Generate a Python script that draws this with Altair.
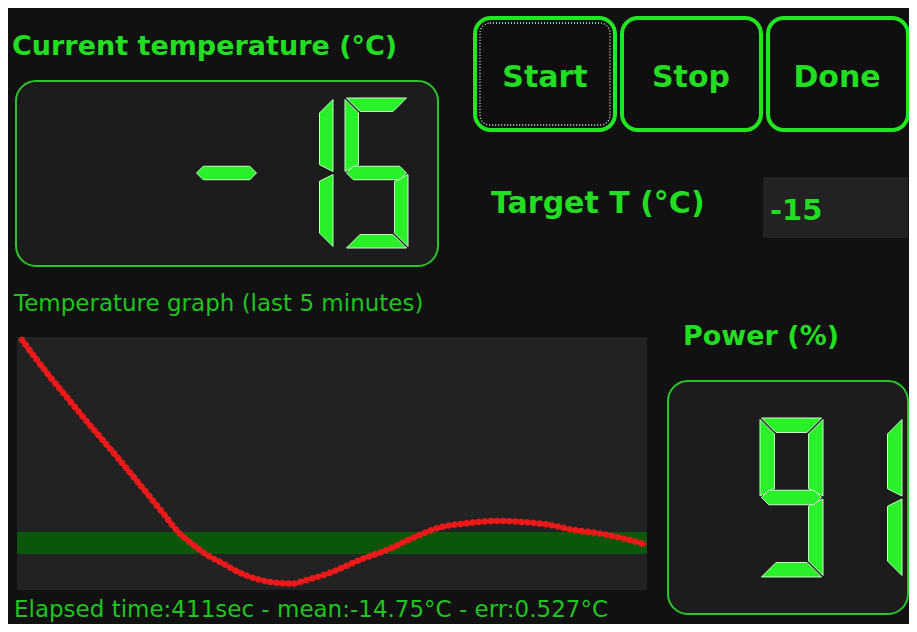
import altair as alt
import pandas as pd

# ---------------- values ----------------
current_temp = "-15"
power_pct = "91"
target_c = -15
band_half = 0.5
elapsed_s = 411
mean_c = -14.75
err_c = 0.527
window_start, window_end = 111, 411          # last 5 minutes (s)
temp_min, temp_max = -17.14, -5.64           # graph vertical extent (°C)

time_s = [113.4, 120.0, 126.7, 134.5, 142.4, 150.5, 158.6, 166.5, 174.3, 181.0,
          187.2, 194.5, 201.5, 208.6, 217.2, 226.7, 235.3, 242.0, 249.1, 260.0,
          267.0, 274.3, 287.2, 299.6, 311.5, 326.7, 339.6, 351.9, 364.8, 375.8,
          387.2, 396.7, 407.7, 410.5]
temp_c = [-5.77, -6.62, -7.45, -8.35, -9.27, -10.18, -11.09, -12.00, -12.91, -13.70,
          -14.45, -15.05, -15.55, -15.91, -16.36, -16.68, -16.82, -16.85, -16.68, -16.36,
          -16.08, -15.77, -15.32, -14.77, -14.32, -14.09, -14.00, -14.05, -14.18, -14.41,
          -14.55, -14.73, -15.00, -15.09]

bold_labels = ["Current temperature (°C)", "Target T (°C)", str(target_c), "Power (%)"]
button_labels = ["Start", "Stop", "Done"]
info_labels = ["Temperature graph (last 5 minutes)",
               f"Elapsed time:{elapsed_s}sec - mean:{mean_c}°C - err:{err_c}°C"]

# ---------------- layout (page pixels) ----------------
O = 8                     # page margin
W, H = 901, 616
GREEN = "#22e622"
GREEN_TXT = "#22dd22"
GREEN_REG = "#1fc41f"
SEG_FILL = "#2af02a"
SEG_EDGE = "#c4ffc4"


def px(v):
    return min(v - O, W - 1)


def py(v):
    return min(v - O, H - 1)


def rect_df(rects):
    return pd.DataFrame([{"x0": px(a), "y0": py(b), "x1": px(c), "y1": py(d)} for a, b, c, d in rects])


def rect_layer(rects, **kw):
    return alt.Chart(rect_df(rects)).mark_rect(**kw).encode(
        x=alt.X("x0:Q", scale=None), x2="x1", y=alt.Y("y0:Q", scale=None), y2="y1")


def text_layer(labels, xs, ys, sizes, **kw):
    df = pd.DataFrame({"label": labels, "x": [px(v) for v in xs], "y": [py(v) for v in ys], "fs": sizes})
    return alt.Chart(df).mark_text(baseline="alphabetic", font="DejaVu Sans", **kw).encode(
        x=alt.X("x:Q", scale=None), y=alt.Y("y:Q", scale=None),
        text="label:N", size=alt.Size("fs:Q", scale=None))


# ---------------- seven segment digits ----------------
SEGMENTS = {"0": "abcdef", "1": "bc", "2": "abdeg", "3": "abcdg", "4": "bcfg",
            "5": "acdfg", "6": "acdefg", "7": "abc", "8": "abcdefg", "9": "abcdfg", "-": "g"}


def seg_polys(ch, x0, y0, w, h, t, g=1.5):
    x1, y1, ym = x0 + w, y0 + h, y0 + h / 2
    P = {
        "a": [(x0 + g, y0), (x1 - g, y0), (x1 - g - t, y0 + t), (x0 + g + t, y0 + t)],
        "d": [(x0 + g, y1), (x1 - g, y1), (x1 - g - t, y1 - t), (x0 + g + t, y1 - t)],
        "f": [(x0, y0 + g), (x0 + t, y0 + g + t), (x0 + t, ym - g - t / 2), (x0, ym - g)],
        "b": [(x1, y0 + g), (x1 - t, y0 + g + t), (x1 - t, ym - g - t / 2), (x1, ym - g)],
        "e": [(x0, ym + g), (x0 + t, ym + g + t / 2), (x0 + t, y1 - g - t), (x0, y1 - g)],
        "c": [(x1, ym + g), (x1 - t, ym + g + t / 2), (x1 - t, y1 - g - t), (x1, y1 - g)],
        "g": [(x0 + g, ym), (x0 + g + t / 2, ym - t / 2), (x1 - g - t / 2, ym - t / 2),
              (x1 - g, ym), (x1 - g - t / 2, ym + t / 2), (x0 + g + t / 2, ym + t / 2)],
    }
    return [P[s] for s in SEGMENTS[ch]]


def lcd_rows(text, first_x, y0, pitch, w, h, t):
    rows = []
    for i, ch in enumerate(text):
        for poly in seg_polys(ch, first_x + i * pitch, y0, w, h, t):
            cx = sum(p[0] for p in poly) / len(poly)
            cy = sum(p[1] for p in poly) / len(poly)
            path = "M " + " L ".join(f"{p[0]-cx:.2f} {p[1]-cy:.2f}" for p in poly) + " Z"
            rows.append({"x": px(cx), "y": py(cy), "shape": path})
    return rows


seg_rows = lcd_rows(current_temp, 195, 98, 75, 63, 150, 13.5) + \
    lcd_rows(power_pct, 760, 418, 79, 63, 159, 14.5)
digits = alt.Chart(pd.DataFrame(seg_rows)).mark_point(
    filled=True, fill=SEG_FILL, stroke=SEG_EDGE, strokeWidth=1, opacity=1, size=4
).encode(x=alt.X("x:Q", scale=None), y=alt.Y("y:Q", scale=None), shape=alt.Shape("shape:N", scale=None))

# ---------------- boxes ----------------
boxes = rect_layer([(16, 81, 438, 266), (668, 381, 916, 614)],
                   fill="#1c1c1c", stroke="#2cc42c", strokeWidth=2, cornerRadius=20)
buttons = rect_layer([(475, 18, 615, 130), (622, 18, 761, 130), (768, 18, 916, 130)],
                     fill="#0f0f0f", stroke=GREEN, strokeWidth=4, cornerRadius=16)
focus = rect_layer([(480, 23, 610, 125)], fill=None, stroke="#d8ffd8", strokeWidth=1.3,
                   strokeDash=[1, 2], cornerRadius=10)
inputbox = rect_layer([(763, 177, 916, 238)], fill="#222222", cornerRadius=2)
panel = rect_layer([(17, 337, 647, 590)], fill="#222222")

# ---------------- texts ----------------
t_bold = text_layer(bold_labels, [12, 491, 770, 683], [55, 213, 220, 345], [27, 30, 29, 27],
                    align="left", fontWeight="bold", color=GREEN_TXT)
t_btn = text_layer(button_labels, [545, 691, 837], [87, 87, 87], [30, 30, 30],
                   align="center", fontWeight="bold", color=GREEN_TXT)
t_reg = text_layer(info_labels, [14, 14], [311, 617], [23, 23], align="left", color=GREEN_REG)

# ---------------- temperature graph ----------------
xs = alt.Scale(domain=[window_start, window_end], range=[px(17), px(647)], nice=False, zero=False)
ys = alt.Scale(domain=[temp_min, temp_max], range=[py(590), py(337)], nice=False, zero=False)

band_df = pd.DataFrame({"t0": [window_start], "t1": [window_end],
                        "lo": [target_c - band_half], "hi": [target_c + band_half]})
band = alt.Chart(band_df).mark_rect(color="#0b560b").encode(
    x=alt.X("t0:Q", scale=xs, axis=None), x2="t1",
    y=alt.Y("lo:Q", scale=ys, axis=None), y2="hi")

curve_df = pd.DataFrame({"t": time_s, "temp": temp_c})
enc = dict(x=alt.X("t:Q", scale=xs, axis=None), y=alt.Y("temp:Q", scale=ys, axis=None))
line = alt.Chart(curve_df).mark_line(color="#e01414", strokeWidth=4, interpolate="monotone").encode(**enc)
dots = alt.Chart(curve_df).mark_line(color="#ea1a1a", strokeWidth=6.5, strokeCap="round",
                                     interpolate="monotone", strokeDash=[0.1, 6]).encode(**enc)

chart = alt.layer(
    boxes, buttons, focus, inputbox, panel, band, line, dots, digits, t_bold, t_btn, t_reg
).properties(
    width=W, height=H, padding=0, background="#111111",
    autosize=alt.AutoSizeParams(type="none")
).configure_view(stroke=None)

chart.save("out.html", embed_options={"renderer": "svg", "actions": False})
